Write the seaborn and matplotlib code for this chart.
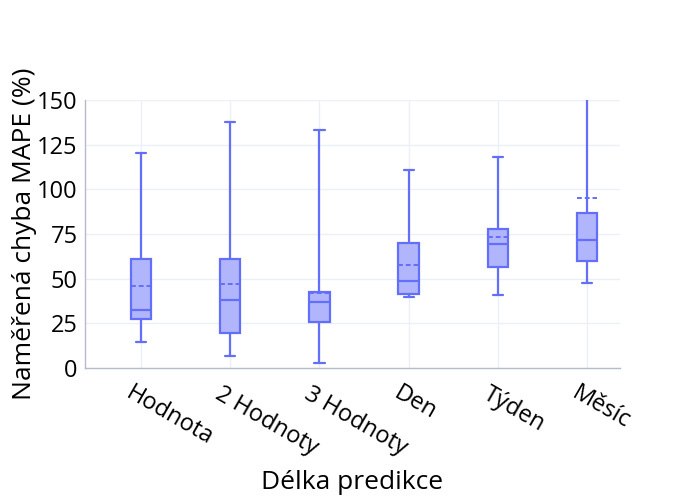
import numpy as np
import pandas as pd
import matplotlib
matplotlib.use("Agg")
import matplotlib.pyplot as plt
import matplotlib.transforms as mtransforms
import seaborn as sns

# values (MAPE in %)
categories = ["Hodnota", "2 Hodnoty", "3 Hodnoty", "Den", "Týden", "Měsíc"]
lower = [14.4, 6.9, 2.6, 39.9, 40.7, 47.4]
q1 = [27.4, 19.4, 26.0, 41.6, 56.7, 59.7]
median = [32.5, 38.2, 36.8, 48.9, 69.4, 71.8]
q3 = [60.8, 60.8, 42.7, 69.8, 78.0, 86.6]
upper = [120.3, 137.5, 133.2, 111.1, 117.9, 165.0]
mean = [45.9, 47.2, 41.8, 57.5, 73.1, 95.1]

# five values per group -> linear percentiles give exactly min/q1/med/q3/max
rows = []
for i, cat in enumerate(categories):
    for v in (lower[i], q1[i], median[i], q3[i], upper[i]):
        rows.append({"Délka predikce": cat, "MAPE": v})
df = pd.DataFrame(rows)

sns.set_theme(style="whitegrid")
plt.rcParams["font.family"] = ["Open Sans", "DejaVu Sans"]

line_c = "#636efa"
fill_c = "#b1b6fc"
grid_c = "#ebf0f8"
axis_c = "#b4bccb"
box_w = 0.23

fig = plt.figure(figsize=(7, 5), dpi=100)
ax = fig.add_axes([0.121, 0.264, 0.765, 0.536])

sns.boxplot(data=df, x="Délka predikce", y="MAPE", order=categories, ax=ax,
            color=fill_c, linecolor=line_c, linewidth=1.6, saturation=1,
            width=box_w, whis=(0, 100), showfliers=False)

x = np.arange(len(categories))
ax.hlines(mean, x - box_w / 2, x + box_w / 2, colors=line_c, linewidth=1.4,
          linestyles=(0, (2.5, 1.5)), zorder=5)

ax.set_xlim(-0.63, 5.37)
ax.set_ylim(0, 150)
ax.set_yticks(range(0, 151, 25))
ax.grid(True, color=grid_c, linewidth=1)
ax.set_axisbelow(True)
for s in ("top", "right"):
    ax.spines[s].set_visible(False)
for s in ("left", "bottom"):
    ax.spines[s].set_color(axis_c)
    ax.spines[s].set_linewidth(1)

ax.tick_params(axis="y", length=0, pad=5, labelsize=17, labelcolor="black")
ax.tick_params(axis="x", length=0, pad=10, labelsize=17, labelcolor="black")
offset = mtransforms.ScaledTranslation(-0.19, 0, fig.dpi_scale_trans)
for lab in ax.get_xticklabels():
    lab.set_rotation(-30)
    lab.set_ha("left")
    lab.set_va("top")
    lab.set_transform(lab.get_transform() + offset)

ax.set_xlabel("Délka predikce", fontsize=19, color="black", labelpad=7)
ax.set_ylabel("Naměřená chyba MAPE (%)", fontsize=19, color="black", labelpad=0)

fig.savefig("out.png", dpi=100)
